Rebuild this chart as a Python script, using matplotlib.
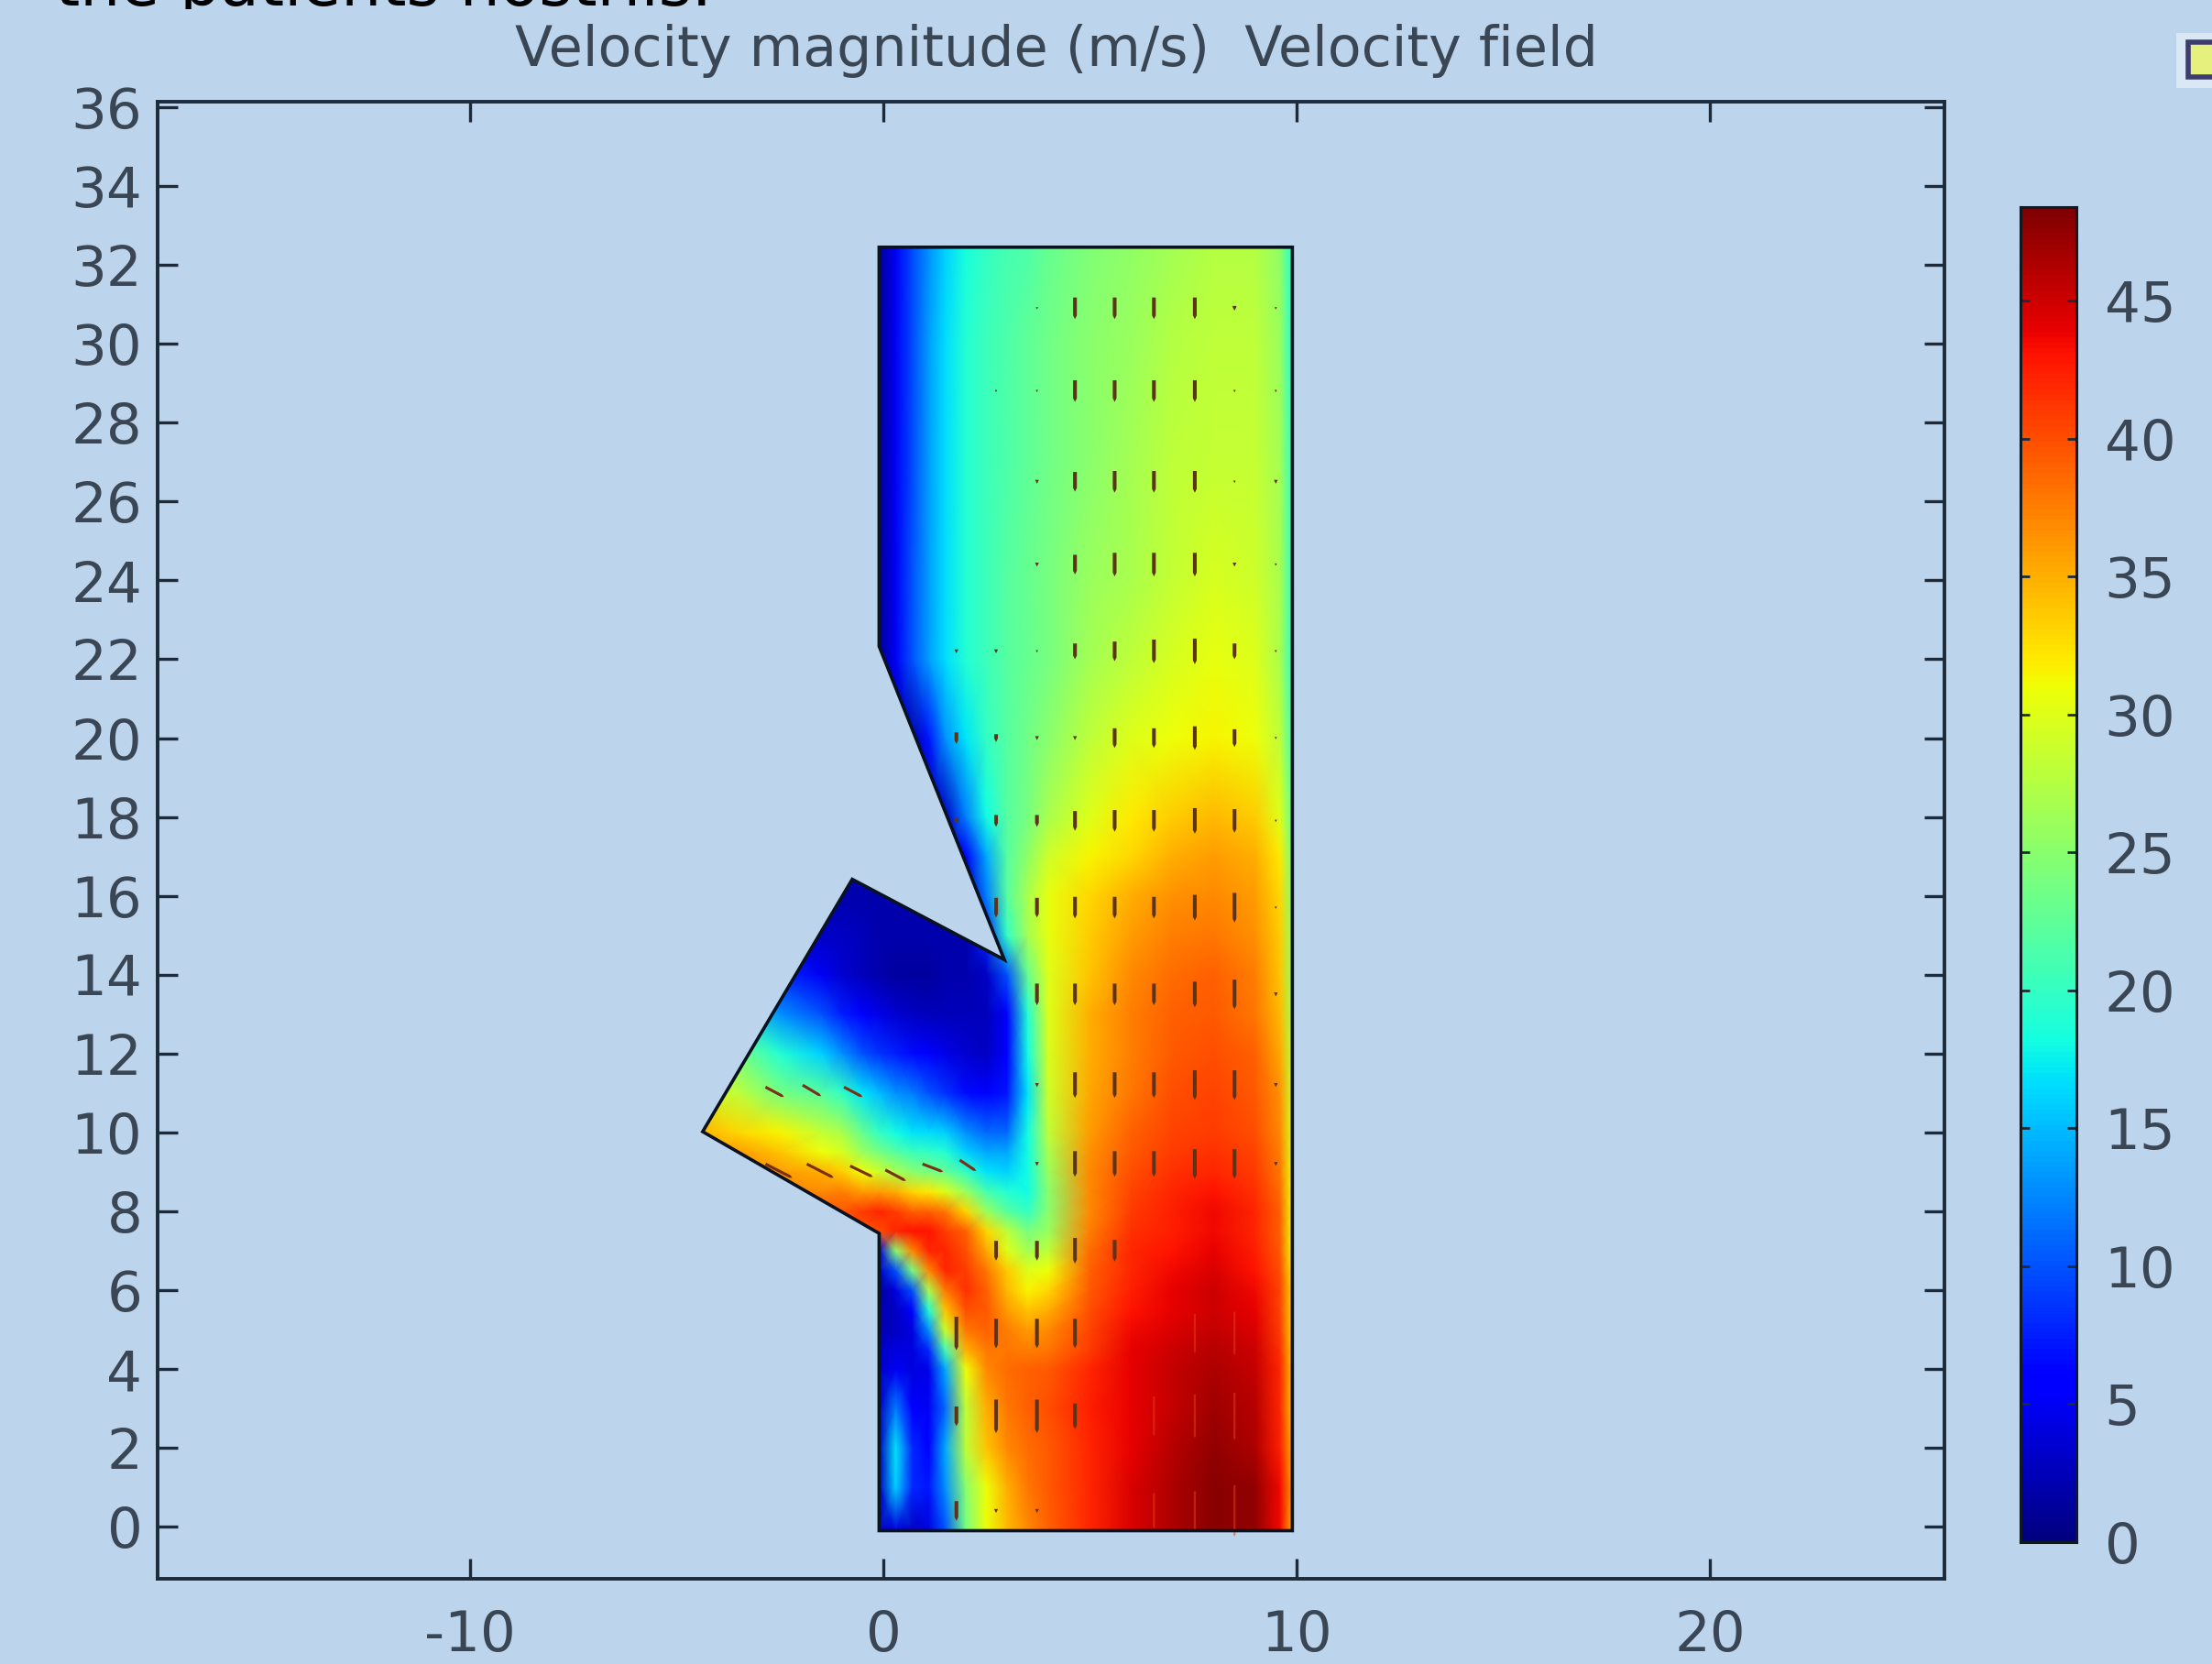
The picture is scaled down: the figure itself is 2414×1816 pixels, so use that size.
import matplotlib
matplotlib.use("Agg")
import matplotlib.pyplot as plt
import numpy as np
from matplotlib.patches import Polygon, Rectangle

plt.rcParams['font.family'] = ['DejaVu Sans']
plt.rcParams['axes.unicode_minus'] = False

BG = '#bcd4ec'
INK = '#1c2a3a'
TXT = '#3a4654'

x_levels = [-4.5,-3.5,-2.5,-1.5,-1,-0.5,-0.1,0.3,0.7,1.1,1.5,2,2.5,3,3.5,4,5,6,7,8,9,9.6,9.9]
y_levels = [-0.1,1,2,3,4,4.5,5,5.5,6,6.5,7,7.5,8,8.5,9,9.5,10,11,12,13,14,15,16,17,18,20,22,24,27,30,32.5]
speed_rows = [
 [3,3,3,3,3,3,3,4,3,4,10,24,31,34.5,37,39,42,44.5,46.5,48,47.5,43.5,35],
 [3,3,3,3,3,3,3,16,8,7,13,25,31,35,38,39.5,42,44.5,46.5,48,47.5,43.5,36],
 [3,3,3,3,3,3,3,17,8,6,14,28,34,37,38.5,39.5,42,44,46,47.5,46.5,42.5,35],
 [3,3,3,3,3,3,3,12,6,5,11,28,35,38,39,40,42.5,44,45.5,47,46,42,34],
 [3,3,3,3,3,3,3,5,4,4.5,14,31,37,38.5,39,39.5,42,44,45.5,46.5,45.5,42,34],
 [3,3,3,3,3,3,3,4,4,8,21,35,38,38,37.5,38,41,44,45,46,45,41.5,33.5],
 [3,3,3,3,3,3,2,3,4,13,29,38,39,37.5,36,37,40.5,43.5,44.5,45.5,44.5,41,33],
 [3,3,3,3,3,3,2,3,6,19,34,40,39.5,36,34,35,40,43,44,45,44,40.5,33],
 [3,3,3,3,3,3,1,4,10,27,38,41.5,39,34.5,31.5,33,39.5,42.5,44,45,43.5,40.5,33],
 [3,3,3,3,3,3,3,10,24,37,42,41,38,33.5,30,31,39,42,43.5,44.5,43,40,32],
 [4,4,4,4,4,4,4,25,37,42,42,40,35.5,30,26.5,28,38.5,42,43,44,42.5,39.5,31],
 [40,40,40,40,40,40,40,42,43,43,41,39,33,28,24,26,37.5,41.5,42.5,43.5,42,39,31],
 [40,40,40,40,39.5,41,42,41,39,39,38,33,26,22,20,25,37,41,42.5,43.5,42,39,31],
 [37,37,37,37,37.5,36,36,35,33,32,30,26,21,19,18,25,37,40.5,42,43,41.5,38.5,31],
 [38,38,36,35,33.5,31,29,27,25,24,23,20,17,16,18,26,37,40,41.5,42,41,38,31],
 [36,36,34,31,29.5,26,24,22,20.5,20,19,16,14,14,18,27,36.5,39.5,41,41.5,40.5,37.5,30],
 [35,33,31.5,28.5,27,23,20,18,17,16.5,16,13,11,11,18,28,36,39,40.5,41,40,37,30],
 [30,28,24,22,20,17,15,13,12,10,8.5,6.5,5.5,7,17,29,35.5,38,40,40.5,39.5,36.5,29],
 [24,24,19,16,13,10,8.5,7.5,6.5,5.5,4.5,3.5,3,6,18,29.5,35,37.5,39.5,40,39,35.5,28],
 [18,18,13,10,7.5,5.5,4.5,3.5,3,2.5,2.5,2.5,2.5,5.5,19,30,35,37.5,39,39.5,38,34.5,27],
 [8,8,8,5,3.5,2.5,2,1.5,1.5,1.5,2,2,3,10,23,30,34,37,38.5,39,37.5,34,26],
 [3,3,3,3,3,2.5,2,2,2,2,2,2,8,20,26.5,30.5,33.5,36,37.5,38,36.5,33.5,26],
 [2,2,2,2,2,2,2,2,2,2,2,2,12,22,27,30.5,33,35,36.5,37,36,33,25],
 [2,2,2,2,2,2,2,2,2,2,2,5,14,22,25.5,29,31.5,33,35,36,35,32,24],
 [2,2,2,2,2,2,2,2,2,2,3,12,18,22,24,27,30,32,33.5,34.5,33.5,30,23],
 [2,2,2,2,2,2,2,2,2,7,13,17,20,22,23.5,25,28,30,31,31.5,31,28,21],
 [1,1,1,1,1,1,1,5,10,13.5,16.5,19,20.5,22,23,24,26.5,28,29.5,30.5,30,27,20],
 [1,1,1,1,1,1,1,5,10,13.5,16.5,19,20.5,22,23,24,26,27,28.5,29.5,29,27,20],
 [1,1,1,1,1,1,1,5,9.5,13.5,16.5,19,20.5,21.5,22.5,23.5,25,26.5,28,28.5,28.5,26.5,20],
 [1,1,1,1,1,1,1,5,9.5,13.5,16.5,19,20.5,21.5,22.5,23.5,25,26,27.5,28,28,26,19],
 [1,1,1,1,1,1,1,5,9.5,13,16,18.5,20,21,21.5,23,24.5,25.5,26.5,27.5,27.5,25.5,19],
]
wall_x = [-0.1,9.9,9.9,-0.1,-0.1,-4.37,-0.75,2.93,-0.1]
wall_y = [32.45,32.45,-0.1,-0.1,7.44,10.02,16.42,14.38,22.33]

arrow_x = [1.77,2.73,3.72,4.64,5.6,6.55,7.54,8.5,9.5]
arrow_y = [30.9,28.8,26.5,24.4,22.2,20,17.9,15.7,13.5,11.2,9.2,7,4.9,2.8,0.4]
arrow_len = [
 [0,0,.06,.55,.55,.55,.55,.12,.06],
 [0,.06,.06,.55,.55,.55,.55,.06,.06],
 [0,0,.1,.5,.55,.55,.55,.06,.1],
 [0,0,.1,.5,.6,.6,.6,.1,.06],
 [.1,.1,.06,.4,.5,.6,.65,.4,.06],
 [.3,.2,.1,.1,.5,.5,.6,.45,.06],
 [.15,.3,.3,.5,.55,.55,.65,.6,.06],
 [0,.5,.5,.55,.55,.55,.65,.75,.06],
 [0,0,.55,.55,.55,.55,.65,.75,.1],
 [0,0,.1,.65,.65,.65,.75,.75,.1],
 [0,0,.1,.65,.65,.65,.75,.75,.1],
 [0,.5,.5,.65,.55,0,0,0,0],
 [.85,.75,.75,.75,0,0,0,0,0],
 [.5,.85,.85,.65,0,0,0,0,0],
 [.5,.1,.1,0,0,0,0,0,0],
]
inlet_x = [-2.85,-1.95,-0.95,-2.85,-1.85,-0.8,0.05,0.95,1.85]
inlet_y = [11.15,11.2,11.15,9.2,9.2,9.15,9.05,9.2,9.3]
inlet_u = [.45,.45,.45,.65,.65,.55,.5,.5,.4]
inlet_v = [-.25,-.28,-.25,-.35,-.35,-.28,-.28,-.2,-.28]
faint_x = [6.55,6.55,7.54,7.54,7.54,8.5,8.5,8.5]
faint_y = [2.8,0.4,4.9,2.8,0.4,4.9,2.8,0.4]
faint_len = [1.0,.9,1.0,1.1,1.0,1.1,1.2,1.3]

cbar_ticks = [0,5,10,15,20,25,30,35,40,45]
speed_max = 48.4

W, H = 2414, 1816
fig = plt.figure(figsize=(W/100, H/100), dpi=100, facecolor=BG)

ax = fig.add_axes([172/W, (H-1723)/H, (2122-172)/W, (1723-111)/H], facecolor=BG)
mesh = ax.pcolormesh(x_levels, y_levels, np.array(speed_rows), cmap='jet', vmin=0, vmax=speed_max,
                     shading='gouraud', zorder=1)
outline = Polygon(np.column_stack([wall_x, wall_y]), closed=True, fill=False, edgecolor='#0a1220', lw=2.6, zorder=4)
ax.add_patch(outline)
mesh.set_clip_path(outline)

gx, gy = np.meshgrid(arrow_x, arrow_y)
L = np.array(arrow_len)
m = L > 0
ax.quiver(gx[m], gy[m] + L[m]/2, np.zeros(m.sum()), -L[m], angles='xy', scale_units='xy', scale=1,
          color='#5e3418', width=0.0021, headwidth=1, headlength=1, headaxislength=1, minlength=0, zorder=3)
ax.quiver(inlet_x, inlet_y, inlet_u, inlet_v, angles='xy', scale_units='xy', scale=1,
          color='#7a3016', width=0.0016, headwidth=1, headlength=1, headaxislength=1, zorder=3)
ax.quiver(faint_x, np.array(faint_y) + np.array(faint_len)/2, np.zeros(len(faint_x)), -np.array(faint_len),
          angles='xy', scale_units='xy', scale=1, color='#e23a1a', alpha=.55, width=0.0012,
          headwidth=1, headlength=1, headaxislength=1, zorder=3)

ax.set_xlim(-17.56, 25.68)
ax.set_ylim(-1.32, 36.14)
ax.set_xticks([-10, 0, 10, 20])
ax.set_yticks(range(0, 37, 2))
ax.tick_params(axis='both', which='major', direction='in', length=16, width=2.4, color=INK,
               top=True, right=True, labelsize=44, labelcolor=TXT)
ax.tick_params(axis='x', pad=24)
ax.tick_params(axis='y', pad=12)
for s in ax.spines.values():
    s.set_linewidth(2.8)
    s.set_color(INK)
ax.set_title('Velocity magnitude (m/s)  Velocity field', fontsize=43.4, color=TXT, x=(1153-172)/(2122-172), y=1.0, pad=28)

cax = fig.add_axes([2205/W, (H-1683)/H, (2266-2205)/W, (1683-226)/H])
cax.imshow(np.linspace(speed_max, 0, 256)[:, None], cmap='jet', vmin=0, vmax=speed_max, aspect='auto',
           extent=[0, 1, 0, speed_max])
cax.set_xticks([])
cax.set_yticks(cbar_ticks)
cax.yaxis.tick_right()
cax.tick_params(axis='y', direction='in', length=7, width=2, color=INK, left=True, right=True,
                labelsize=44, labelcolor=TXT, pad=22)
for s in cax.spines.values():
    s.set_linewidth(2.2)
    s.set_color('#101820')

head = fig.text(60/W, 1 - 6/H, 'the patients nostrils.', fontsize=50, color='black', ha='left', va='baseline')
head.set_clip_path(Rectangle((0, 1 - 10/H), 1, 10/H, transform=fig.transFigure))
head.set_clip_on(True)

fig.add_artist(Rectangle((2375/W, 1-96/H), 60/W, 60/H, transform=fig.transFigure, facecolor='white',
                         edgecolor='none', alpha=.45))
fig.add_artist(Rectangle((2388/W, 1-84/H), 40/W, 38/H, transform=fig.transFigure, facecolor='#e6f07c',
                         edgecolor='#3c3c70', lw=4))

fig.savefig('out.png', dpi=100, facecolor=BG)
